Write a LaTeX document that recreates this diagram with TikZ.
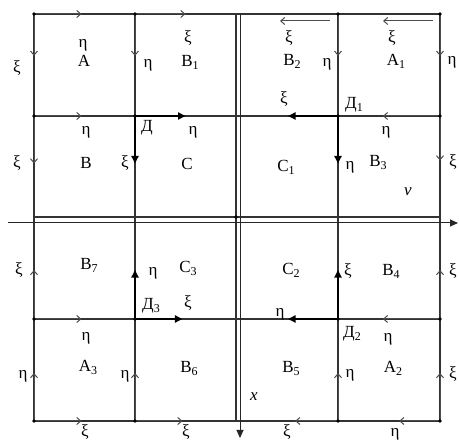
\documentclass[tikz,border=0pt]{standalone}
\usepackage{fontspec}
\setmainfont{Liberation Serif}
\usetikzlibrary{arrows.meta, calc}
\newcommand{\sub}[1]{\raisebox{-0.35ex}{\fontsize{12}{12}\selectfont #1}}

\begin{document}
\begin{tikzpicture}[
  x=1pt, y=-1pt,
  gridln/.style={draw=black!80, line width=1.2pt},
  axisar/.style={-{Triangle[length=8pt,width=7pt]}, draw=black!85, line width=1pt},
  thinar/.style={-{Straight Barb[length=4pt,width=7pt]}, draw=black!70, line width=1pt},
  thickar/.style={-{Triangle[length=7.5pt,width=7pt]}, draw=black, line width=1.9pt},
  lbl/.style={font=\fontsize{17}{20}\selectfont, inner sep=0pt, text height=1.5ex, text depth=.25ex},
  dotmark/.style={fill=black}
]
  \useasboundingbox[fill=white] (0,0) rectangle (459,443);

  % grid points
  \foreach \i/\xx in {0/34,1/135,2/236,4/338,5/440}
    \foreach \j/\yy in {0/14,1/116,2/217,4/319,5/421}
      \coordinate (g\i\j) at (\xx,\yy);
  \coordinate (hx-a) at (8,223);   \coordinate (hx-b) at (458,223);
  \coordinate (vx-a) at (240,14);  \coordinate (vx-b) at (240,438);
  \coordinate (tb2-s) at (330,21); \coordinate (tb2-e) at (280,21);
  \coordinate (ta1-s) at (433,21); \coordinate (ta1-e) at (383,21);

  % grid
  \draw[gridln] (g00) -- (g50) -- (g55) -- (g05) -- cycle;
  \draw[gridln] (g01) -- (g51);
  \draw[gridln] (g02) -- (g52);
  \draw[gridln] (g04) -- (g54);
  \draw[gridln] (g10) -- (g15);
  \draw[gridln] (g20) -- (g25);
  \draw[gridln] (g40) -- (g45);

  % axes
  \draw[axisar] (hx-a) -- (hx-b);
  \draw[axisar] (vx-a) -- (vx-b);

  % thin arrows, upper half
  \draw[thinar] (g00) -- ($(g00)!.47!(g10)$);
  \draw[thinar] (g10) -- ($(g10)!.5!(g20)$);
  \draw[thinar] (g00) -- ($(g00)!.41!(g01)$);
  \draw[thinar] (g01) -- ($(g01)!.47!(g02)$);
  \draw[thinar] (g10) -- ($(g10)!.41!(g11)$);
  \draw[thinar] (g01) -- ($(g01)!.47!(g11)$);
  \draw[thinar] (g40) -- ($(g40)!.41!(g41)$);
  \draw[thinar] (g50) -- ($(g50)!.41!(g51)$);
  \draw[thinar] (g51) -- ($(g51)!.44!(g52)$);
  \draw[thinar] (g51) -- ($(g51)!.56!(g41)$);
  \draw[thinar] (tb2-s) -- (tb2-e);
  \draw[thinar] (ta1-s) -- (ta1-e);

  % thin arrows, lower half
  \draw[thinar] (g04) -- ($(g04)!.48!(g02)$);
  \draw[thinar] (g05) -- ($(g05)!.47!(g04)$);
  \draw[thinar] (g04) -- ($(g04)!.47!(g14)$);
  \draw[thinar] (g15) -- ($(g15)!.47!(g14)$);
  \draw[thinar] (g05) -- ($(g05)!.47!(g15)$);
  \draw[thinar] (g15) -- ($(g15)!.47!(g25)$);
  \draw[thinar] (g54) -- ($(g54)!.56!(g44)$);
  \draw[thinar] (g45) -- ($(g45)!.47!(g44)$);
  \draw[thinar] (g55) -- ($(g55)!.47!(g54)$);
  \draw[thinar] (g54) -- ($(g54)!.48!(g52)$);
  \draw[thinar] (g45) -- ($(g45)!.42!(g25)$);
  \draw[thinar] (g55) -- ($(g55)!.4!(g45)$);

  % thick arrows from the D points
  \draw[thickar] (g11) -- ($(g11)!.5!(g21)$);
  \draw[thickar] (g11) -- ($(g11)!.47!(g12)$);
  \draw[thickar] (g41) -- ($(g41)!.49!(g21)$);
  \draw[thickar] (g41) -- ($(g41)!.47!(g42)$);
  \draw[thickar] (g14) -- ($(g14)!.48!(g12)$);
  \draw[thickar] (g14) -- ($(g14)!.47!(g24)$);
  \draw[thickar] (g44) -- ($(g44)!.48!(g42)$);
  \draw[thickar] (g44) -- ($(g44)!.49!(g24)$);

  % dots
  \foreach \p in {g00,g10,g40,g50,g01,g11,g41,g51,g22,g04,g14,g44,g54,g05,g15,g45,g55}
    \fill[dotmark] (\p) circle (1.9pt);

  % labels, upper left
  \node[lbl] (xi-a)  at (17,70)   {ξ};
  \node[lbl] (xi-b)  at (17,165)  {ξ};
  \node[lbl] (eta-a) at (83,45)   {η};
  \node[lbl] (n-a)   at (84,64)   {A};
  \node[lbl] (eta-b1) at (148,65) {η};
  \node[lbl] (xi-b1) at (188,40)  {ξ};
  \node[lbl] (n-b1)  at (190,64)  {B\sub{1}};
  \node[lbl] (eta-b) at (86,132)  {η};
  \node[lbl] (n-b)   at (86,166)  {B};
  \node[lbl] (xi-c)  at (125,165) {ξ};
  \node[lbl] (n-d)   at (147,129) {Д};
  \node[lbl] (eta-c) at (193,132) {η};
  \node[lbl] (n-c)   at (187,167) {C};

  % labels, upper right
  \node[lbl] (xi-b2)  at (289,40)  {ξ};
  \node[lbl] (n-b2)   at (292,63)  {B\sub{2}};
  \node[lbl] (eta-b2) at (327,64)  {η};
  \node[lbl] (xi-a1)  at (392,40)  {ξ};
  \node[lbl] (n-a1)   at (396,63)  {A\sub{1}};
  \node[lbl] (eta-a1) at (452,62)  {η};
  \node[lbl] (xi-c1)  at (284,101) {ξ};
  \node[lbl] (n-d1)   at (354,106) {Д\sub{1}};
  \node[lbl] (eta-b3) at (386,132) {η};
  \node[lbl] (n-c1)   at (286,169) {C\sub{1}};
  \node[lbl] (eta-c1) at (350,167) {η};
  \node[lbl] (n-b3)   at (378,164) {B\sub{3}};
  \node[lbl] (xi-b3)  at (453,164) {ξ};
  \node[lbl] (n-v)    at (408,193) {\textit{v}};

  % labels, lower left
  \node[lbl] (xi-b7)  at (19,272)  {ξ};
  \node[lbl] (n-b7)   at (89,267)  {B\sub{7}};
  \node[lbl] (eta-c3) at (153,273) {η};
  \node[lbl] (n-c3)   at (188,270) {C\sub{3}};
  \node[lbl] (n-d3)   at (151,307) {Д\sub{3}};
  \node[lbl] (xi-d3)  at (188,305) {ξ};
  \node[lbl] (eta-a3) at (86,338)  {η};
  \node[lbl] (n-a3)   at (88,369)  {A\sub{3}};
  \node[lbl] (eta-l)  at (23,376)  {η};
  \node[lbl] (eta-b6) at (125,376) {η};
  \node[lbl] (n-b6)   at (189,370) {B\sub{6}};
  \node[lbl] (xi-bl)  at (85,434)  {ξ};
  \node[lbl] (xi-bm)  at (186,434) {ξ};

  % labels, lower right
  \node[lbl] (n-c2)   at (291,272) {C\sub{2}};
  \node[lbl] (xi-c2)  at (348,273) {ξ};
  \node[lbl] (n-b4)   at (391,273) {B\sub{4}};
  \node[lbl] (xi-b4)  at (453,273) {ξ};
  \node[lbl] (eta-c2) at (280,314) {η};
  \node[lbl] (n-d2)   at (352,335) {Д\sub{2}};
  \node[lbl] (eta-a2) at (388,339) {η};
  \node[lbl] (n-b5)   at (291,370) {B\sub{5}};
  \node[lbl] (eta-b5) at (350,375) {η};
  \node[lbl] (n-a2)   at (393,370) {A\sub{2}};
  \node[lbl] (xi-a2)  at (453,376) {ξ};
  \node[lbl] (n-x)    at (254,398) {\textit{x}};
  \node[lbl] (xi-br)  at (287,434) {ξ};
  \node[lbl] (eta-br) at (395,434) {η};
\end{tikzpicture}
\end{document}
